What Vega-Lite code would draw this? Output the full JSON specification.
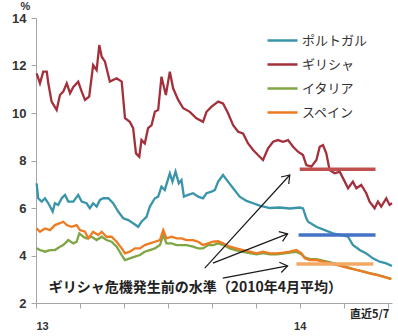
{
  "$schema": "https://vega.github.io/schema/vega-lite/v6.json",
  "width": 356,
  "height": 285,
  "autosize": "none",
  "padding": {"left": 36, "top": 18, "right": 6, "bottom": 33},
  "background": "white",
  "config": {"view": {"stroke": null}, "font": "Noto Sans CJK JP"},
  "datasets": {
    "series": [
      {"c":"ポルトガル","t":0.03,"v":7.04},{"c":"ポルトガル","t":0.1,"v":6.41},{"c":"ポルトガル","t":0.26,"v":6.27},{"c":"ポルトガル","t":0.41,"v":6.41},{"c":"ポルトガル","t":0.56,"v":6.2},{"c":"ポルトガル","t":0.76,"v":5.85},{"c":"ポルトガル","t":0.86,"v":6.2},{"c":"ポルトガル","t":1.01,"v":6.13},{"c":"ポルトガル","t":1.17,"v":6.41},{"c":"ポルトガル","t":1.32,"v":6.55},{"c":"ポルトガル","t":1.47,"v":6.27},{"c":"ポルトガル","t":1.7,"v":6.27},{"c":"ポルトガル","t":1.92,"v":6.55},{"c":"ポルトガル","t":2.08,"v":6.27},{"c":"ポルトガル","t":2.3,"v":6.2},{"c":"ポルトガル","t":2.45,"v":5.99},{"c":"ポルトガル","t":2.6,"v":6.2},{"c":"ポルトガル","t":2.76,"v":6.06},{"c":"ポルトガル","t":2.91,"v":6.34},{"c":"ポルトガル","t":3.06,"v":6.41},{"c":"ポルトガル","t":3.29,"v":6.41},{"c":"ポルトガル","t":3.51,"v":6.2},{"c":"ポルトガル","t":3.74,"v":5.85},{"c":"ポルトガル","t":3.97,"v":5.57},{"c":"ポルトガル","t":4.2,"v":5.49},{"c":"ポルトガル","t":4.42,"v":5.36},{"c":"ポルトガル","t":4.65,"v":5.21},{"c":"ポルトガル","t":4.8,"v":5.42},{"c":"ポルトガル","t":5.03,"v":5.63},{"c":"ポルトガル","t":5.18,"v":6.06},{"c":"ポルトガル","t":5.41,"v":6.41},{"c":"ポルトガル","t":5.56,"v":6.48},{"c":"ポルトガル","t":5.71,"v":6.9},{"c":"ポルトガル","t":5.86,"v":6.76},{"c":"ポルトガル","t":6.09,"v":7.46},{"c":"ポルトガル","t":6.21,"v":7.11},{"c":"ポルトガル","t":6.35,"v":7.53},{"c":"ポルトガル","t":6.5,"v":7.04},{"c":"ポルトガル","t":6.62,"v":7.18},{"c":"ポルトガル","t":6.73,"v":6.48},{"c":"ポルトガル","t":6.92,"v":6.55},{"c":"ポルトガル","t":7.15,"v":6.62},{"c":"ポルトガル","t":7.38,"v":6.48},{"c":"ポルトガル","t":7.6,"v":6.41},{"c":"ポルトガル","t":7.76,"v":6.62},{"c":"ポルトガル","t":7.99,"v":6.69},{"c":"ポルトガル","t":8.14,"v":6.76},{"c":"ポルトガル","t":8.29,"v":7.11},{"c":"ポルトガル","t":8.51,"v":7.39},{"c":"ポルトガル","t":8.74,"v":7.11},{"c":"ポルトガル","t":8.97,"v":6.83},{"c":"ポルトガル","t":9.27,"v":6.48},{"c":"ポルトガル","t":9.58,"v":6.3},{"c":"ポルトガル","t":9.88,"v":6.2},{"c":"ポルトガル","t":10.18,"v":6.1},{"c":"ポルトガル","t":10.64,"v":6.0},{"c":"ポルトガル","t":11.09,"v":6.02},{"c":"ポルトガル","t":11.55,"v":5.98},{"c":"ポルトガル","t":12.0,"v":6.02},{"c":"ポルトガル","t":12.15,"v":5.98},{"c":"ポルトガル","t":12.3,"v":5.57},{"c":"ポルトガル","t":12.38,"v":5.42},{"c":"ポルトガル","t":12.76,"v":5.21},{"c":"ポルトガル","t":13.14,"v":5.07},{"c":"ポルトガル","t":13.51,"v":4.93},{"c":"ポルトガル","t":13.9,"v":4.86},{"c":"ポルトガル","t":14.2,"v":4.79},{"c":"ポルトガル","t":14.42,"v":4.44},{"c":"ポルトガル","t":14.73,"v":4.23},{"c":"ポルトガル","t":15.03,"v":4.09},{"c":"ポルトガル","t":15.33,"v":3.88},{"c":"ポルトガル","t":15.64,"v":3.74},{"c":"ポルトガル","t":15.94,"v":3.67},{"c":"ポルトガル","t":16.2,"v":3.56},
      {"c":"ギリシャ","t":0.03,"v":11.67},{"c":"ギリシャ","t":0.18,"v":11.25},{"c":"ギリシャ","t":0.33,"v":11.74},{"c":"ギリシャ","t":0.49,"v":11.74},{"c":"ギリシャ","t":0.56,"v":11.25},{"c":"ギリシャ","t":0.71,"v":10.48},{"c":"ギリシャ","t":0.94,"v":10.13},{"c":"ギリシャ","t":1.09,"v":10.76},{"c":"ギリシャ","t":1.24,"v":10.9},{"c":"ギリシャ","t":1.4,"v":11.25},{"c":"ギリシャ","t":1.55,"v":10.83},{"c":"ギリシャ","t":1.7,"v":11.1},{"c":"ギリシャ","t":1.92,"v":11.32},{"c":"ギリシャ","t":2.08,"v":10.9},{"c":"ギリシャ","t":2.23,"v":10.55},{"c":"ギリシャ","t":2.42,"v":10.69},{"c":"ギリシャ","t":2.6,"v":12.02},{"c":"ギリシャ","t":2.76,"v":11.81},{"c":"ギリシャ","t":2.88,"v":12.86},{"c":"ギリシャ","t":2.99,"v":12.37},{"c":"ギリシャ","t":3.14,"v":12.16},{"c":"ギリシャ","t":3.36,"v":11.32},{"c":"ギリシャ","t":3.67,"v":11.46},{"c":"ギリシャ","t":3.9,"v":11.32},{"c":"ギリシャ","t":4.05,"v":9.78},{"c":"ギリシャ","t":4.27,"v":9.63},{"c":"ギリシャ","t":4.42,"v":9.36},{"c":"ギリシャ","t":4.55,"v":8.3},{"c":"ギリシャ","t":4.7,"v":8.16},{"c":"ギリシャ","t":4.8,"v":8.86},{"c":"ギリシャ","t":4.95,"v":8.72},{"c":"ギリシャ","t":5.1,"v":9.36},{"c":"ギリシャ","t":5.26,"v":9.49},{"c":"ギリシャ","t":5.41,"v":10.05},{"c":"ギリシャ","t":5.56,"v":10.13},{"c":"ギリシャ","t":5.71,"v":11.53},{"c":"ギリシャ","t":5.91,"v":10.76},{"c":"ギリシャ","t":6.09,"v":11.74},{"c":"ギリシャ","t":6.24,"v":11.04},{"c":"ギリシャ","t":6.47,"v":10.55},{"c":"ギリシャ","t":6.7,"v":10.2},{"c":"ギリシャ","t":7.0,"v":10.05},{"c":"ギリシャ","t":7.3,"v":9.78},{"c":"ギリシャ","t":7.6,"v":9.63},{"c":"ギリシャ","t":7.76,"v":10.05},{"c":"ギリシャ","t":7.99,"v":10.27},{"c":"ギリシャ","t":8.29,"v":10.48},{"c":"ギリシャ","t":8.51,"v":10.4},{"c":"ギリシャ","t":8.74,"v":9.99},{"c":"ギリシャ","t":8.97,"v":9.49},{"c":"ギリシャ","t":9.2,"v":9.21},{"c":"ギリシャ","t":9.42,"v":9.14},{"c":"ギリシャ","t":9.65,"v":8.72},{"c":"ギリシャ","t":9.88,"v":8.44},{"c":"ギリシャ","t":10.1,"v":8.23},{"c":"ギリシャ","t":10.33,"v":8.02},{"c":"ギリシャ","t":10.56,"v":8.51},{"c":"ギリシャ","t":10.79,"v":8.79},{"c":"ギリシャ","t":11.01,"v":8.86},{"c":"ギリシャ","t":11.24,"v":8.79},{"c":"ギリシャ","t":11.47,"v":8.86},{"c":"ギリシャ","t":11.7,"v":8.58},{"c":"ギリシャ","t":11.92,"v":8.37},{"c":"ギリシャ","t":12.15,"v":8.23},{"c":"ギリシャ","t":12.3,"v":7.81},{"c":"ギリシャ","t":12.53,"v":7.74},{"c":"ギリシャ","t":12.76,"v":8.02},{"c":"ギリシャ","t":12.91,"v":8.58},{"c":"ギリシャ","t":13.06,"v":8.65},{"c":"ギリシャ","t":13.21,"v":8.3},{"c":"ギリシャ","t":13.36,"v":7.6},{"c":"ギリシャ","t":13.59,"v":7.46},{"c":"ギリシャ","t":13.82,"v":7.53},{"c":"ギリシャ","t":14.05,"v":7.11},{"c":"ギリシャ","t":14.2,"v":6.83},{"c":"ギリシャ","t":14.42,"v":7.11},{"c":"ギリシャ","t":14.58,"v":6.83},{"c":"ギリシャ","t":14.8,"v":6.97},{"c":"ギリシャ","t":15.03,"v":6.62},{"c":"ギリシャ","t":15.18,"v":6.27},{"c":"ギリシャ","t":15.41,"v":5.99},{"c":"ギリシャ","t":15.56,"v":6.27},{"c":"ギリシャ","t":15.71,"v":6.06},{"c":"ギリシャ","t":15.94,"v":6.41},{"c":"ギリシャ","t":16.09,"v":6.13},{"c":"ギリシャ","t":16.2,"v":6.2},
      {"c":"イタリア","t":0.03,"v":4.3},{"c":"イタリア","t":0.18,"v":4.23},{"c":"イタリア","t":0.41,"v":4.16},{"c":"イタリア","t":0.64,"v":4.23},{"c":"イタリア","t":0.86,"v":4.23},{"c":"イタリア","t":1.09,"v":4.37},{"c":"イタリア","t":1.24,"v":4.44},{"c":"イタリア","t":1.47,"v":4.65},{"c":"イタリア","t":1.7,"v":4.51},{"c":"イタリア","t":1.85,"v":4.58},{"c":"イタリア","t":1.97,"v":4.93},{"c":"イタリア","t":2.15,"v":4.79},{"c":"イタリア","t":2.3,"v":4.72},{"c":"イタリア","t":2.53,"v":4.79},{"c":"イタリア","t":2.76,"v":4.65},{"c":"イタリア","t":2.99,"v":4.79},{"c":"イタリア","t":3.21,"v":4.65},{"c":"イタリア","t":3.44,"v":4.58},{"c":"イタリア","t":3.67,"v":4.37},{"c":"イタリア","t":3.9,"v":4.02},{"c":"イタリア","t":4.05,"v":3.81},{"c":"イタリア","t":4.27,"v":3.88},{"c":"イタリア","t":4.5,"v":3.95},{"c":"イタリア","t":4.73,"v":4.02},{"c":"イタリア","t":4.95,"v":4.16},{"c":"イタリア","t":5.18,"v":4.23},{"c":"イタリア","t":5.41,"v":4.3},{"c":"イタリア","t":5.64,"v":4.44},{"c":"イタリア","t":5.79,"v":4.86},{"c":"イタリア","t":5.94,"v":4.51},{"c":"イタリア","t":6.17,"v":4.51},{"c":"イタリア","t":6.4,"v":4.44},{"c":"イタリア","t":6.62,"v":4.44},{"c":"イタリア","t":6.85,"v":4.44},{"c":"イタリア","t":7.15,"v":4.37},{"c":"イタリア","t":7.38,"v":4.3},{"c":"イタリア","t":7.6,"v":4.3},{"c":"イタリア","t":7.83,"v":4.44},{"c":"イタリア","t":8.06,"v":4.44},{"c":"イタリア","t":8.29,"v":4.51},{"c":"イタリア","t":8.51,"v":4.45},{"c":"イタリア","t":8.82,"v":4.3},{"c":"イタリア","t":9.12,"v":4.22},{"c":"イタリア","t":9.42,"v":4.15},{"c":"イタリア","t":9.73,"v":4.1},{"c":"イタリア","t":10.03,"v":4.05},{"c":"イタリア","t":10.33,"v":4.1},{"c":"イタリア","t":10.64,"v":4.05},{"c":"イタリア","t":10.94,"v":4.05},{"c":"イタリア","t":11.24,"v":4.08},{"c":"イタリア","t":11.55,"v":4.12},{"c":"イタリア","t":11.85,"v":4.15},{"c":"イタリア","t":12.08,"v":4.05},{"c":"イタリア","t":12.23,"v":3.92},{"c":"イタリア","t":12.45,"v":3.86},{"c":"イタリア","t":12.76,"v":3.85},{"c":"イタリア","t":13.06,"v":3.78},{"c":"イタリア","t":13.36,"v":3.72},{"c":"イタリア","t":13.67,"v":3.64},{"c":"イタリア","t":13.97,"v":3.56},{"c":"イタリア","t":14.27,"v":3.48},{"c":"イタリア","t":14.58,"v":3.4},{"c":"イタリア","t":14.88,"v":3.33},{"c":"イタリア","t":15.18,"v":3.26},{"c":"イタリア","t":15.49,"v":3.2},{"c":"イタリア","t":15.79,"v":3.12},{"c":"イタリア","t":16.17,"v":3.02},
      {"c":"スペイン","t":0.03,"v":5.14},{"c":"スペイン","t":0.18,"v":5.0},{"c":"スペイン","t":0.41,"v":5.14},{"c":"スペイン","t":0.64,"v":5.07},{"c":"スペイン","t":0.86,"v":5.28},{"c":"スペイン","t":1.09,"v":5.36},{"c":"スペイン","t":1.24,"v":5.42},{"c":"スペイン","t":1.4,"v":5.28},{"c":"スペイン","t":1.62,"v":5.21},{"c":"スペイン","t":1.85,"v":5.28},{"c":"スペイン","t":2.0,"v":5.07},{"c":"スペイン","t":2.23,"v":5.0},{"c":"スペイン","t":2.38,"v":4.72},{"c":"スペイン","t":2.6,"v":5.0},{"c":"スペイン","t":2.83,"v":4.86},{"c":"スペイン","t":2.99,"v":5.0},{"c":"スペイン","t":3.21,"v":4.79},{"c":"スペイン","t":3.44,"v":4.79},{"c":"スペイン","t":3.67,"v":4.58},{"c":"スペイン","t":3.9,"v":4.3},{"c":"スペイン","t":4.05,"v":4.09},{"c":"スペイン","t":4.27,"v":4.16},{"c":"スペイン","t":4.5,"v":4.3},{"c":"スペイン","t":4.73,"v":4.3},{"c":"スペイン","t":4.95,"v":4.44},{"c":"スペイン","t":5.18,"v":4.51},{"c":"スペイン","t":5.41,"v":4.58},{"c":"スペイン","t":5.64,"v":4.65},{"c":"スペイン","t":5.79,"v":5.07},{"c":"スペイン","t":5.94,"v":4.72},{"c":"スペイン","t":6.17,"v":4.79},{"c":"スペイン","t":6.4,"v":4.72},{"c":"スペイン","t":6.62,"v":4.72},{"c":"スペイン","t":6.85,"v":4.65},{"c":"スペイン","t":7.15,"v":4.65},{"c":"スペイン","t":7.38,"v":4.58},{"c":"スペイン","t":7.6,"v":4.44},{"c":"スペイン","t":7.83,"v":4.51},{"c":"スペイン","t":8.06,"v":4.58},{"c":"スペイン","t":8.29,"v":4.6},{"c":"スペイン","t":8.51,"v":4.51},{"c":"スペイン","t":8.82,"v":4.37},{"c":"スペイン","t":9.12,"v":4.3},{"c":"スペイン","t":9.42,"v":4.23},{"c":"スペイン","t":9.73,"v":4.16},{"c":"スペイン","t":10.03,"v":4.09},{"c":"スペイン","t":10.33,"v":4.16},{"c":"スペイン","t":10.64,"v":4.09},{"c":"スペイン","t":10.94,"v":4.09},{"c":"スペイン","t":11.24,"v":4.12},{"c":"スペイン","t":11.55,"v":4.16},{"c":"スペイン","t":11.85,"v":4.23},{"c":"スペイン","t":12.08,"v":4.09},{"c":"スペイン","t":12.23,"v":3.88},{"c":"スペイン","t":12.45,"v":3.81},{"c":"スペイン","t":12.76,"v":3.81},{"c":"スペイン","t":13.06,"v":3.74},{"c":"スペイン","t":13.36,"v":3.67},{"c":"スペイン","t":13.67,"v":3.6},{"c":"スペイン","t":13.97,"v":3.53},{"c":"スペイン","t":14.27,"v":3.46},{"c":"スペイン","t":14.58,"v":3.39},{"c":"スペイン","t":14.88,"v":3.32},{"c":"スペイン","t":15.18,"v":3.25},{"c":"スペイン","t":15.49,"v":3.18},{"c":"スペイン","t":15.79,"v":3.11},{"c":"スペイン","t":16.17,"v":3.0}
    ],
    "levels": [
      {"t0": 12.0, "t1": 15.45, "v": 7.63, "col": "#c0504d"},
      {"t0": 11.95, "t1": 15.45, "v": 4.86, "col": "#4472c4"},
      {"t0": 11.85, "t1": 15.35, "v": 3.64, "col": "#f4a866"}
    ],
    "arrows": [
      {"t": 7.68, "v": 3.47, "t2": 11.55, "v2": 7.39, "a": 42},
      {"t": 8.05, "v": 3.68, "t2": 11.45, "v2": 4.91, "a": 69},
      {"t": 8.5, "v": 3.05, "t2": 11.45, "v2": 3.56, "a": 79}
    ],
    "notes": [
      {"t": 7.25, "v": 2.63, "label": "ギリシャ危機発生前の水準（2010年4月平均）", "size": 14},
      {"t": 15.18, "v": 1.5, "label": "直近5/7", "size": 11}
    ]
  },
  "layer": [
    {
      "data": {"name": "series"},
      "mark": {"type": "line", "strokeWidth": 2.3, "interpolate": "linear"},
      "encoding": {
        "x": {
          "field": "t", "type": "quantitative",
          "scale": {"domain": [0, 16.2], "nice": false, "zero": false},
          "axis": {
            "title": null, "grid": false,
            "values": [0,1,2,3,4,5,6,7,8,9,10,11,12,13,14,15,16],
            "labelExpr": "datum.value == 0 ? '13' : (datum.value == 12 ? '14' : '')",
            "domainColor": "#a6a6a6", "tickColor": "#a6a6a6", "tickSize": 5,
            "labelPadding": 12, "labelFontSize": 11, "labelColor": "#333333",
            "labelFont": "Liberation Sans", "labelFontWeight": "bold", "labelOverlap": false
          }
        },
        "y": {
          "field": "v", "type": "quantitative",
          "scale": {"domain": [2, 14], "nice": false, "zero": false},
          "axis": {
            "title": "%", "titleAngle": 0, "titleX": -11, "titleY": -9,
            "titleAlign": "center", "titleBaseline": "alphabetic", "titleFontSize": 11,
            "titleFont": "Liberation Sans", "titleFontWeight": "bold", "titleColor": "#333333",
            "grid": false, "values": [2,4,6,8,10,12,14],
            "domainColor": "#a6a6a6", "tickColor": "#a6a6a6", "tickSize": 5,
            "labelPadding": 5, "labelFontSize": 13, "labelColor": "#333333",
            "labelFont": "Liberation Sans", "labelFontWeight": "bold"
          }
        },
        "color": {
          "field": "c", "type": "nominal",
          "scale": {
            "domain": ["ポルトガル", "ギリシャ", "イタリア", "スペイン"],
            "range": ["#3a94aa", "#a3303a", "#7ea645", "#ee7b22"]
          },
          "legend": {
            "title": null, "orient": "none", "legendX": 230, "legendY": 6,
            "symbolType": "stroke", "symbolSize": 900, "symbolStrokeWidth": 2.5,
            "labelFontSize": 13, "labelColor": "#333333", "labelFont": "Noto Sans CJK JP",
            "rowPadding": 0, "labelOffset": 3
          }
        },
        "order": {"field": "t", "type": "quantitative"}
      }
    },
    {
      "data": {"name": "levels"},
      "mark": {"type": "rule", "strokeWidth": 3.5},
      "encoding": {
        "x": {"field": "t0", "type": "quantitative"},
        "x2": {"field": "t1"},
        "y": {"field": "v", "type": "quantitative"},
        "stroke": {"field": "col", "type": "nominal", "scale": null}
      }
    },
    {
      "data": {"name": "arrows"},
      "mark": {"type": "rule", "strokeWidth": 1.2, "color": "#1a1a1a"},
      "encoding": {
        "x": {"field": "t", "type": "quantitative"},
        "y": {"field": "v", "type": "quantitative"},
        "x2": {"field": "t2"},
        "y2": {"field": "v2"}
      }
    },
    {
      "data": {"name": "arrows"},
      "mark": {"type": "point", "shape": "M-0.7,1L0,0L0.7,1", "filled": false, "stroke": "#1a1a1a", "strokeWidth": 1.2, "size": 220, "opacity": 1},
      "encoding": {
        "x": {"field": "t2", "type": "quantitative"},
        "y": {"field": "v2", "type": "quantitative"},
        "angle": {"field": "a", "type": "quantitative", "scale": null}
      }
    },
    {
      "data": {"name": "notes"},
      "mark": {"type": "text", "font": "Noto Sans CJK JP", "fontWeight": "bold", "color": "#222222", "align": "center", "baseline": "middle"},
      "encoding": {
        "x": {"field": "t", "type": "quantitative"},
        "y": {"field": "v", "type": "quantitative"},
        "text": {"field": "label"},
        "size": {"field": "size", "type": "quantitative", "scale": null}
      }
    }
  ]
}
